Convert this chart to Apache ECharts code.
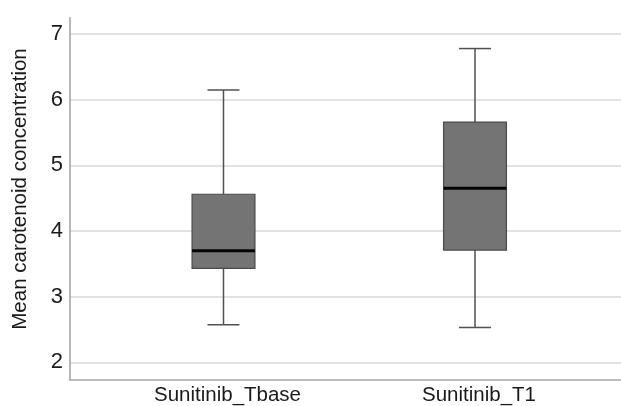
<!DOCTYPE html>
<html>
<head>
<meta charset="utf-8">
<script src="https://cdn.jsdelivr.net/npm/echarts@6/dist/echarts.min.js"></script>
<style>html,body{margin:0;padding:0;background:#fff}#c{width:621px;height:406px}</style>
</head>
<body>
<div id="c"></div>
<script>
// Data
const categories = ['Sunitinib_Tbase', 'Sunitinib_T1'];
const whiskerLow = [2.57, 2.53];
const q1 = [3.43, 3.71];
const medians = [3.70, 4.65];
const q3 = [4.56, 5.66];
const whiskerHigh = [6.15, 6.78];
const yTicks = [2, 3, 4, 5, 6, 7];
const yMin = 1.73, yMax = 7.25;
const yTitle = 'Mean carotenoid concentration';

const font = '"Liberation Sans", Arial, sans-serif';
const seriesData = categories.map((c, i) => [i, whiskerLow[i], q1[i], medians[i], q3[i], whiskerHigh[i]]);

const chart = echarts.init(document.getElementById('c'), null, {renderer: 'canvas'});
chart.setOption({
  animation: false,
  backgroundColor: '#fff',
  graphic: [{
    type: 'text', x: 20, y: 189, rotation: Math.PI / 2,
    style: {text: yTitle, fill: '#1a1a1a', font: '20.5px ' + font, align: 'center', verticalAlign: 'middle'}
  }],
  grid: [
    {left: 70, right: 0, top: 17.7, bottom: 26},
    {left: 97.75, right: 20.25, top: 17.7, bottom: 26}
  ],
  xAxis: [
    {gridIndex: 0, type: 'value', min: 0, max: 1, axisLabel: {show: false}, axisTick: {show: false},
     splitLine: {show: false}, axisLine: {show: true, onZero: false, lineStyle: {color: '#a8a8a8', width: 1.5}}},
    {gridIndex: 1, type: 'category', data: categories, axisLine: {show: false}, axisTick: {show: false},
     axisLabel: {color: '#1a1a1a', fontSize: 20.5, fontFamily: font, margin: 5, padding: [0, 0, 0, 8]}}
  ],
  yAxis: [
    {gridIndex: 0, type: 'value', min: yMin, max: yMax,
     axisLine: {show: true, lineStyle: {color: '#a0a0a0', width: 1.5}},
     axisTick: {show: false, customValues: yTicks},
     axisLabel: {customValues: yTicks, color: '#1a1a1a', fontSize: 22, fontFamily: font, margin: 7},
     splitLine: {show: true, lineStyle: {color: '#d9d9d9', width: 1.5}}},
    {gridIndex: 1, type: 'value', min: yMin, max: yMax, show: false, splitLine: {show: false}}
  ],
  series: [{
    type: 'custom',
    xAxisIndex: 1, yAxisIndex: 1,
    data: seriesData,
    encode: {x: 0, y: [1, 2, 3, 4, 5]},
    renderItem: function (params, api) {
      const idx = api.value(0);
      const band = api.size([1, 0])[0];
      const boxW = band * 0.25;
      const capW = band * 0.127;
      const pLow = api.coord([idx, api.value(1)]);
      const pQ1 = api.coord([idx, api.value(2)]);
      const pMed = api.coord([idx, api.value(3)]);
      const pQ3 = api.coord([idx, api.value(4)]);
      const pHigh = api.coord([idx, api.value(5)]);
      const cx = pMed[0];
      const wStyle = {stroke: '#505050', lineWidth: 1.5};
      return {
        type: 'group',
        children: [
          {type: 'line', shape: {x1: cx, y1: pHigh[1], x2: cx, y2: pQ3[1]}, style: wStyle},
          {type: 'line', shape: {x1: cx, y1: pQ1[1], x2: cx, y2: pLow[1]}, style: wStyle},
          {type: 'line', shape: {x1: cx - capW / 2, y1: pHigh[1], x2: cx + capW / 2, y2: pHigh[1]}, style: wStyle},
          {type: 'line', shape: {x1: cx - capW / 2, y1: pLow[1], x2: cx + capW / 2, y2: pLow[1]}, style: wStyle},
          {type: 'rect', shape: {x: cx - boxW / 2, y: pQ3[1], width: boxW, height: pQ1[1] - pQ3[1]},
           style: {fill: '#747474', stroke: '#4a4a4a', lineWidth: 1.2}},
          {type: 'line', shape: {x1: cx - boxW / 2, y1: pMed[1], x2: cx + boxW / 2, y2: pMed[1]},
           style: {stroke: '#050505', lineWidth: 3}}
        ]
      };
    }
  }]
});
</script>
</body>
</html>
